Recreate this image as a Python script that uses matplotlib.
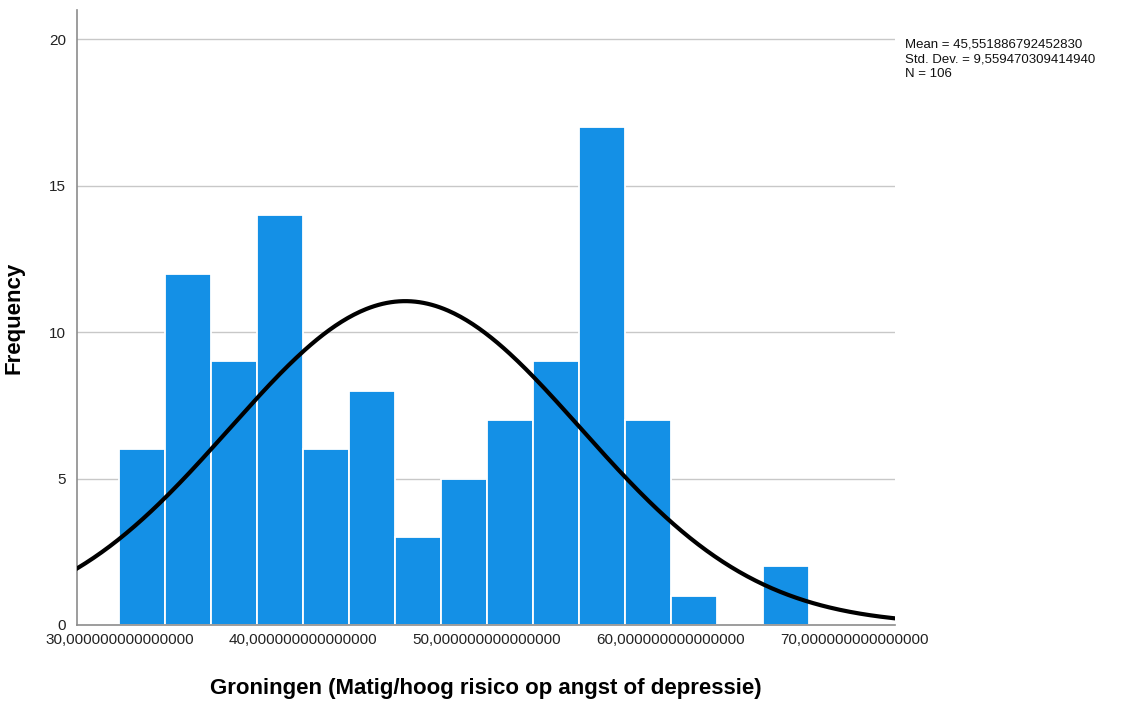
import numpy as np
import matplotlib
matplotlib.use('Agg')
import matplotlib.pyplot as plt

plt.rcParams['font.family'] = ['Liberation Sans', 'DejaVu Sans']

# histogram counts, bins of width 2.5 starting at 30
counts = [6, 12, 9, 14, 6, 8, 3, 5, 7, 9, 17, 7, 1, 0, 2]
bin_start = 30.0
bin_width = 2.5

mean = 45.551886792452830
sd = 9.559470309414940
n = 106

xticks = [30, 40, 50, 60, 70]
yticks = [0, 5, 10, 15, 20]

fig = plt.figure(figsize=(11.35, 7.02), dpi=100)
ax = fig.add_axes([0.068, 0.1097, 0.7205, 0.876])

lefts = bin_start + bin_width * np.arange(len(counts))
ax.bar(lefts, counts, width=bin_width, align='edge', color='#1490e6',
       edgecolor='white', linewidth=1.3, zorder=2)

# normal curve scaled to the histogram
xs = np.linspace(27.7, 72.2, 400)
ys = n * bin_width / (sd * np.sqrt(2 * np.pi)) * np.exp(-0.5 * ((xs - mean) / sd) ** 2)
ax.plot(xs, ys, color='black', linewidth=3, zorder=3)

ax.set_xlim(27.7, 72.2)
ax.set_ylim(0, 21)
ax.set_xticks(xticks)
ax.set_xticklabels(['%d,000000000000000' % t for t in xticks])
ax.set_yticks(yticks)
ax.tick_params(length=0, labelsize=11, colors='#222222', pad=6)
ax.tick_params(axis='y', pad=8)

for v in yticks[1:]:
    ax.axhline(v, color='#c8c8c8', linewidth=1, zorder=1)

for s in ['top', 'right']:
    ax.spines[s].set_visible(False)
for s in ['left', 'bottom']:
    ax.spines[s].set_color('#8c8c8c')
    ax.spines[s].set_linewidth(1.2)

ax.set_xlabel('Groningen (Matig/hoog risico op angst of depressie)',
              fontsize=16, fontweight='bold', labelpad=22)
ax.set_ylabel('Frequency', fontsize=16, fontweight='bold', labelpad=18)

fig.text(0.797, 0.945,
         'Mean = 45,551886792452830\nStd. Dev. = 9,559470309414940\nN = 106',
         fontsize=9.5, va='top', ha='left', linespacing=1.3, color='#111111')

fig.savefig('out.png', dpi=100)
